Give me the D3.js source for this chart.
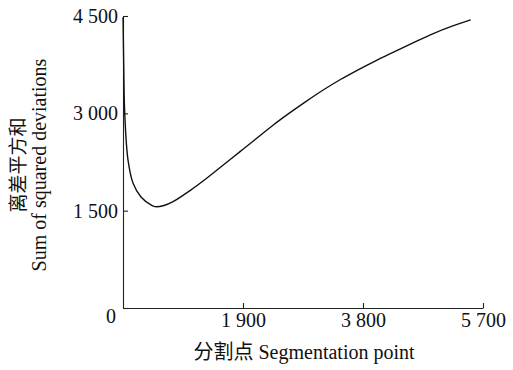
<!DOCTYPE html>
<html>
<head>
<meta charset="utf-8">
<script src="https://cdn.jsdelivr.net/npm/d3@7"></script>
<style>
  html, body { margin: 0; padding: 0; background: #fff; }
  svg text { font-family: "Liberation Serif", "Times New Roman", serif; fill: #111; }
  .cjk { font-family: "Noto Sans CJK SC", "Liberation Serif", serif; }
</style>
</head>
<body>
<svg id="chart" width="513" height="370"></svg>
<script>
// Segmentation point positions and the resulting sum of squared deviations
const segmentPoints = [1, 12, 27, 79, 158, 285, 443, 507, 650, 792, 1061, 1325, 1588, 1853, 2117, 2380, 2644, 2900, 3170, 3450, 3730, 4000, 4300, 4600, 4913, 5200, 5505];
const sumSquares   = [4480, 3700, 3006, 2282, 1927, 1711, 1588, 1562, 1580, 1639, 1810, 2000, 2204, 2410, 2616, 2820, 3010, 3185, 3360, 3525, 3675, 3810, 3950, 4090, 4230, 4340, 4440];

const xTicks = [1900, 3800, 5700];
const yTicks = [0, 1500, 3000, 4500];

const fmt = v => v >= 1000 ? d3.format(",")(v).replace(",", " ") : String(v);

const svg = d3.select("#chart");

const x = d3.scaleLinear().domain([0, 5700]).range([123, 483]);
const y = d3.scaleLinear().domain([0, 4500]).range([308, 16]);

// x axis (ticks point into the plot)
const xAxis = svg.append("g")
  .attr("transform", `translate(0,${y(0)})`)
  .call(d3.axisBottom(x).tickValues(xTicks).tickSizeInner(-5).tickSizeOuter(0).tickPadding(5).tickFormat(fmt));

// y axis (ticks point into the plot)
const yAxis = svg.append("g")
  .attr("transform", `translate(${x(0)},0)`)
  .call(d3.axisLeft(y).tickValues(yTicks).tickSizeInner(-5).tickSizeOuter(0).tickPadding(5).tickFormat(fmt));

[xAxis, yAxis].forEach(g => {
  g.select(".domain").attr("stroke", "#222").attr("stroke-width", 1.1);
  g.selectAll(".tick line").attr("stroke", "#222").attr("stroke-width", 1.1);
  g.selectAll("text").attr("font-size", 20).attr("font-family", "Liberation Serif").attr("fill", "#111");
});
// the origin label sits just below the corner
yAxis.selectAll(".tick").filter(d => d === 0).select("text").attr("dy", "0.7em").attr("dx", -2);

// curve
const line = d3.line()
  .x((d, i) => x(segmentPoints[i]))
  .y(d => y(d))
  .curve(d3.curveCatmullRom.alpha(0.5));

svg.append("path")
  .datum(sumSquares)
  .attr("fill", "none")
  .attr("stroke", "#111")
  .attr("stroke-width", 1.4)
  .attr("d", line);

// x axis title
const xt = svg.append("text")
  .attr("x", 304).attr("y", 359)
  .attr("text-anchor", "middle")
  .attr("font-size", 20);
xt.append("tspan").attr("class", "cjk").text("分割点");
xt.append("tspan").text(" Segmentation point");

// y axis title, two lines
const yt = svg.append("g").attr("transform", "translate(0,165) rotate(-90)");
yt.append("text")
  .attr("class", "cjk")
  .attr("x", 0).attr("y", 25)
  .attr("text-anchor", "middle")
  .attr("font-size", 19)
  .text("离差平方和");
yt.append("text")
  .attr("x", 0).attr("y", 46)
  .attr("text-anchor", "middle")
  .attr("font-size", 20)
  .text("Sum of squared deviations");
</script>
</body>
</html>
